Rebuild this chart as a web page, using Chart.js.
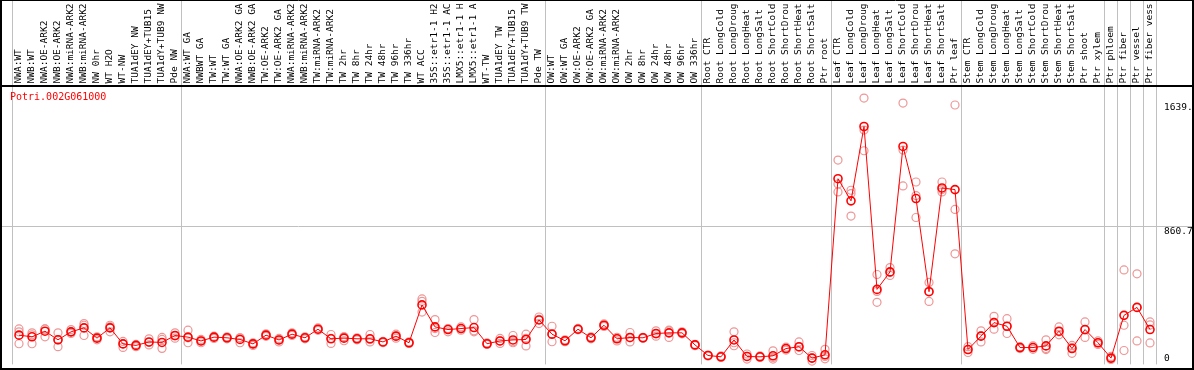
<!DOCTYPE html>
<html>
<head>
<meta charset="utf-8">
<script src="https://cdn.jsdelivr.net/npm/chart.js@4.4.0/dist/chart.umd.min.js"></script>
<style>
  body { margin: 0; background: #fff; }
  #wrap { width: 1194px; height: 370px; }
</style>
</head>
<body>
<div id="wrap"><canvas id="exprChart" width="1194" height="370"></canvas></div>
<script>
const geneName = 'Potri.002G061000';

const samples = [
  'NWA:WT', 'NWB:WT', 'NWA:OE-ARK2', 'NWB:OE-ARK2', 'NWA:miRNA-ARK2', 'NWB:miRNA-ARK2',
  'NW 0hr', 'WT H2O', 'WT-NW', 'TUA1dEY NW', 'TUA1dEY+TUB15', 'TUA1dY+TUB9 NW', 'Pde NW',
  'NWA:WT GA', 'NWBWT GA', 'TW:WT', 'TW:WT GA', 'NWA:OE-ARK2 GA', 'NWB:OE-ARK2 GA',
  'TW:OE-ARK2', 'TW:OE-ARK2 GA', 'NWA:miRNA-ARK2', 'NWB:miRNA-ARK2', 'TW:miRNA-ARK2',
  'TW:miRNA-ARK2', 'TW 2hr', 'TW 8hr', 'TW 24hr', 'TW 48hr', 'TW 96hr', 'TW 336hr',
  'WT ACC', '35S::etr1-1 H2', '35S::etr1-1 AC', 'LMX5::etr1-1 H', 'LMX5::etr1-1 A',
  'WT-TW', 'TUA1dEY TW', 'TUA1dEY+TUB15', 'TUA1dY+TUB9 TW', 'Pde TW',
  'OW:WT', 'OW:WT GA', 'OW:OE-ARK2', 'OW:OE-ARK2 GA', 'OW:miRNA-ARK2', 'OW:miRNA-ARK2',
  'OW 2hr', 'OW 8hr', 'OW 24hr', 'OW 48hr', 'OW 96hr', 'OW 336hr',
  'Root CTR', 'Root LongCold', 'Root LongDroug', 'Root LongHeat', 'Root LongSalt',
  'Root ShortCold', 'Root ShortDrou', 'Root ShortHeat', 'Root ShortSalt', 'Ptr root',
  'Leaf CTR', 'Leaf LongCold', 'Leaf LongDroug', 'Leaf LongHeat', 'Leaf LongSalt',
  'Leaf ShortCold', 'Leaf ShortDrou', 'Leaf ShortHeat', 'Leaf ShortSalt', 'Ptr leaf',
  'Stem CTR', 'Stem LongCold', 'Stem LongDroug', 'Stem LongHeat', 'Stem LongSalt',
  'Stem ShortCold', 'Stem ShortDrou', 'Stem ShortHeat', 'Stem ShortSalt', 'Ptr shoot',
  'Ptr xylem', 'Ptr phloem', 'Ptr fiber', 'Ptr vessel', 'Ptr fiber vess'
];

// mean expression per sample
const means = [
  204, 194, 228, 176, 224, 248, 186, 248, 151, 142, 163, 160, 202,
  192, 169, 192, 188, 178, 151, 204, 175, 210, 188, 240, 182, 186, 182, 182, 163, 198, 158,
  387, 254, 238, 244, 250, 152, 169, 175, 178, 296,
  210, 170, 240, 188, 264, 182, 190, 188, 214, 218, 218, 145,
  81, 73, 175, 75, 73, 79, 123, 134, 65, 85,
  1151, 1017, 1467, 481, 587, 1346, 1031, 467, 1095, 1085,
  117, 198, 280, 258, 129, 129, 139, 228, 123, 238, 158, 65, 324, 372, 238
];

// replicates
const rep1 = [
  242, 218, 242, 218, 238, 274, 194, 264, 166, 148, 182, 190, 218,
  234, 178, 198, 194, 188, 158, 212, 184, 218, 194, 248, 208, 194, 188, 208, 166, 210, 163,
  423, 298, 244, 254, 298, 157, 184, 202, 210, 314,
  258, 176, 245, 194, 272, 191, 220, 191, 230, 234, 224, 149,
  84, 78, 224, 90, 78, 109, 131, 163, 81, 118,
  1264, 1081, 1639, 571, 613, 1609, 1131, 523, 1131, 1597,
  134, 230, 318, 304, 134, 139, 176, 254, 142, 284, 169, 75, 599, 575, 284
];
const rep2 = [
  224, 206, 242, 176, 224, 264, 188, 254, 152, 142, 160, 178, 200,
  188, 169, 192, 188, 188, 151, 204, 175, 210, 188, 240, 184, 194, 182, 178, 163, 198, 158,
  409, 244, 242, 244, 230, 152, 169, 164, 185, 299,
  209, 170, 240, 188, 264, 186, 188, 188, 212, 230, 218, 145,
  81, 73, 158, 75, 73, 69, 123, 131, 66, 75,
  1119, 1061, 1445, 469, 583, 1324, 1049, 469, 1085, 965,
  117, 200, 281, 257, 129, 129, 123, 224, 130, 236, 158, 63, 264, 372, 266
];
const rep3 = [
  152, 152, 194, 134, 214, 202, 176, 224, 130, 134, 145, 124, 186,
  158, 158, 184, 182, 158, 142, 197, 163, 202, 182, 233, 154, 170, 176, 163, 158, 186, 154,
  344, 220, 224, 234, 224, 148, 154, 158, 139, 274,
  164, 164, 236, 182, 257, 169, 163, 185, 198, 190, 212, 140,
  78, 69, 140, 59, 69, 59, 114, 111, 47, 61,
  1071, 925, 1320, 403, 565, 1107, 916, 408, 1071, 696,
  99, 163, 240, 214, 123, 118, 117, 206, 94, 190, 148, 57, 111, 169, 157
];

// sample index where each tissue group starts
const groupEdges = [0, 13, 41, 53, 63, 73, 84, 85, 86, 87, 88];
const gridValue = 860.7;
const yTickValues = [1639, 860.7, 0];
const yTickLabels = ['1639.', '860.7', '0'];

const monoFont = '"DejaVu Sans Mono", "Liberation Mono", monospace';

const frameAndLabels = {
  id: 'frameAndLabels',
  beforeDatasetsDraw(chart) {
    const { ctx, chartArea, scales } = chart;
    const step = (chartArea.right - chartArea.left) / samples.length;
    ctx.save();
    ctx.strokeStyle = '#c0c0c0';
    ctx.lineWidth = 1;
    groupEdges.forEach(g => {
      const x = Math.round(chartArea.left + g * step - 1) + 0.5;
      ctx.beginPath();
      ctx.moveTo(x, 0);
      ctx.lineTo(x, chartArea.bottom);
      ctx.stroke();
    });
    const gy = Math.round(scales.y.getPixelForValue(gridValue)) - 0.5;
    ctx.beginPath();
    ctx.moveTo(0, gy);
    ctx.lineTo(chart.width, gy);
    ctx.stroke();
    ctx.restore();
  },
  afterDatasetsDraw(chart) {
    const { ctx, chartArea, scales } = chart;
    ctx.save();
    // frame
    ctx.strokeStyle = '#000';
    ctx.lineWidth = 2;
    ctx.beginPath();
    ctx.moveTo(1, 0); ctx.lineTo(1, 370);
    ctx.moveTo(1193, 0); ctx.lineTo(1193, 370);
    ctx.moveTo(0, 86); ctx.lineTo(1194, 86);
    ctx.moveTo(0, 369); ctx.lineTo(1194, 369);
    ctx.stroke();
    ctx.lineWidth = 1;
    ctx.beginPath();
    ctx.moveTo(0, 0.5); ctx.lineTo(1194, 0.5);
    ctx.stroke();

    // sample names, rotated
    ctx.fillStyle = '#000';
    ctx.font = '9.5px ' + monoFont;
    ctx.textAlign = 'left';
    ctx.textBaseline = 'middle';
    samples.forEach((s, i) => {
      const x = scales.x.getPixelForValue(i) - 0.5;
      ctx.save();
      ctx.translate(x, 83.5);
      ctx.rotate(-Math.PI / 2);
      ctx.fillText(s, 0, 0);
      ctx.restore();
    });

    // value labels on the right
    ctx.save();
    ctx.beginPath();
    ctx.rect(0, 0, 1192, 370);
    ctx.clip();
    yTickValues.forEach((v, i) => {
      let y = scales.y.getPixelForValue(v) + 4.5;
      if (i === 0) y += 4.8;
      y = Math.min(y, chartArea.bottom - 6);
      ctx.fillText(yTickLabels[i], 1164, y);
    });
    ctx.restore();

    ctx.fillStyle = '#ff0000';
    ctx.font = '10px ' + monoFont;
    ctx.fillText(geneName, 10, 97);
    ctx.restore();
  }
};

const repStyle = {
  showLine: false,
  pointRadius: 4,
  pointBorderWidth: 1.2,
  pointBorderColor: 'rgb(238,150,150)',
  pointBackgroundColor: 'rgba(0,0,0,0)',
  clip: false
};

new Chart(document.getElementById('exprChart'), {
  type: 'line',
  data: {
    labels: samples,
    datasets: [
      {
        label: 'mean',
        data: means,
        borderColor: '#ff0000',
        borderWidth: 1,
        pointRadius: 4,
        pointBorderWidth: 1.6,
        pointBorderColor: '#ff0000',
        pointBackgroundColor: 'rgba(0,0,0,0)',
        tension: 0,
        clip: false
      },
      Object.assign({ label: 'rep1', data: rep1 }, repStyle),
      Object.assign({ label: 'rep2', data: rep2 }, repStyle),
      Object.assign({ label: 'rep3', data: rep3 }, repStyle)
    ]
  },
  options: {
    responsive: false,
    animation: false,
    events: [],
    layout: { padding: { left: 12.5, right: 37.5, top: 87, bottom: 2 } },
    plugins: {
      legend: { display: false },
      tooltip: { enabled: false }
    },
    scales: {
      x: { type: 'category', offset: true, display: false },
      y: { min: 27, max: 1706, display: false }
    }
  },
  plugins: [frameAndLabels]
});
</script>
</body>
</html>
